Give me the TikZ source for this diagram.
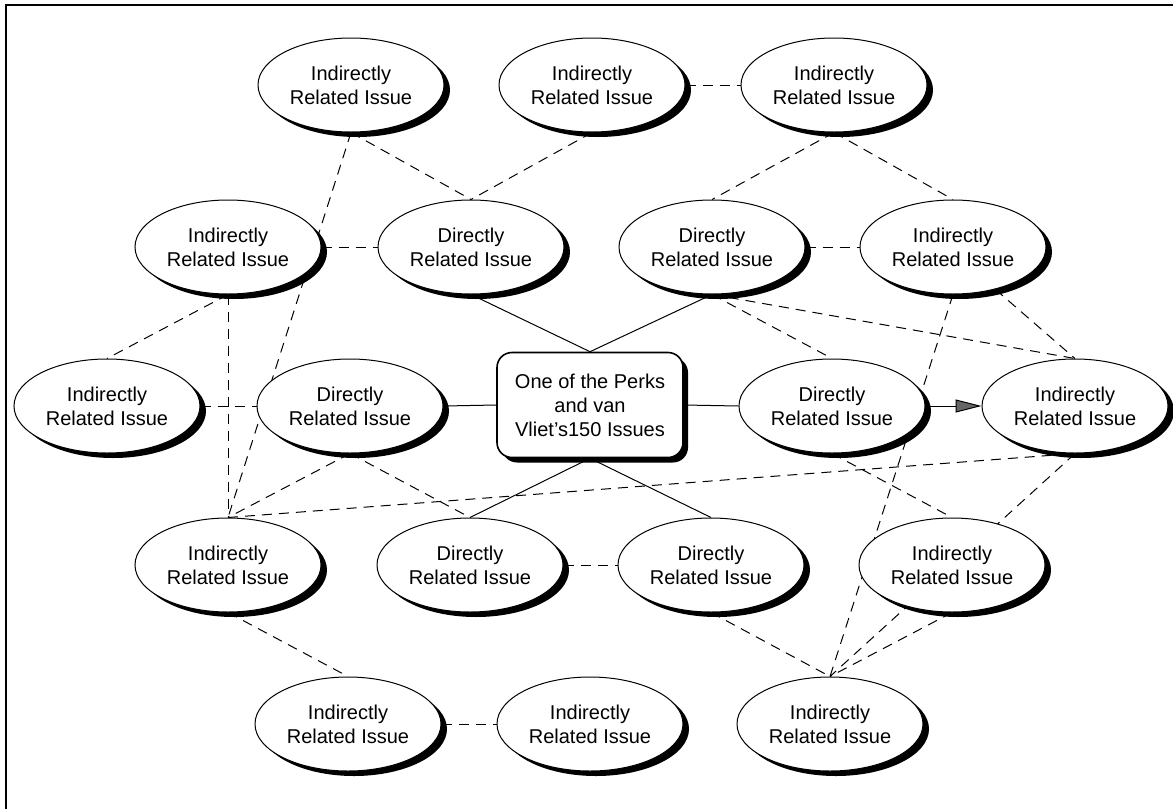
\documentclass[tikz,border=0pt]{standalone}
\usepackage{fontspec}
\setmainfont{Liberation Sans}
\usetikzlibrary{shapes.geometric,arrows.meta,backgrounds,shadows}
\begin{document}
\begin{tikzpicture}[x=0.5pt,y=-0.5pt,
  txt/.style={font=\fontsize{10pt}{12pt}\selectfont, align=center},
  issue/.style={txt, ellipse, draw=black, line width=0.5pt, fill=white,
    inner sep=0pt, minimum width=93pt, minimum height=47pt,
    general shadow={fill=black, shadow xshift=3pt, shadow yshift=-2.5pt}},
  core/.style={txt, rectangle, rounded corners=7.5pt, draw=black, line width=0.8pt,
    fill=white, inner sep=0pt, minimum width=93pt, minimum height=52.5pt,
    general shadow={fill=black, shadow xshift=2.5pt, shadow yshift=-2.5pt}},
  link/.style={line width=0.5pt},
  rel/.style={line width=0.5pt, dash pattern=on 5pt off 3.5pt},
  framed/.style={line width=1.3pt}
]
\useasboundingbox (0,0) rectangle (1173,809);

% nodes
\node[issue] (I1) at (351,85) {Indirectly\\Related Issue};
\node[issue] (I2) at (592,85) {Indirectly\\Related Issue};
\node[issue] (I3) at (834,85) {Indirectly\\Related Issue};
\node[issue] (I4) at (228,247) {Indirectly\\Related Issue};
\node[issue] (D1) at (471,247) {Directly\\Related Issue};
\node[issue] (D2) at (712,247) {Directly\\Related Issue};
\node[issue] (I5) at (953,247) {Indirectly\\Related Issue};
\node[issue] (I6) at (107,406) {Indirectly\\Related Issue};
\node[issue] (D3) at (350,406) {Directly\\Related Issue};
\node[core]  (C)  at (590,405) {One of the Perks\\and van\\Vliet's150 Issues};
\node[issue] (D4) at (832,406) {Directly\\Related Issue};
\node[issue] (I7) at (1075,406) {Indirectly\\Related Issue};
\node[issue] (I8) at (228,565) {Indirectly\\Related Issue};
\node[issue] (D5) at (470,565) {Directly\\Related Issue};
\node[issue] (D6) at (711,565) {Directly\\Related Issue};
\node[issue] (I9) at (952,565) {Indirectly\\Related Issue};
\node[issue] (I10) at (348,724) {Indirectly\\Related Issue};
\node[issue] (I11) at (590,724) {Indirectly\\Related Issue};
\node[issue] (I12) at (830,724) {Indirectly\\Related Issue};

\draw[link, -{Triangle[length=13pt,width=6.5pt,fill=black!60]}] (D4.east) -- (I7.west);

\begin{scope}[on background layer]
  \draw[framed] (6,809) -- (6,5) -- (1173,5);
  % solid links
  \draw[link] (D1.south) -- (C.north);
  \draw[link] (D2.south) -- (C.north);
  \draw[link] (D3.east) -- (C.west);
  \draw[link] (C.east) -- (D4.west);
  \draw[link] (C.south) -- (D5.north);
  \draw[link] (C.south) -- (D6.north);
  % dashed links
  \draw[rel] (I2.east) -- (I3.west);
  \draw[rel] (I4.east) -- (D1.west);
  \draw[rel] (D2.east) -- (I5.west);
  \draw[rel] (I6.east) -- (D3.west);
  \draw[rel] (D5.east) -- (D6.west);
  \draw[rel] (I10.east) -- (I11.west);
  \draw[rel] (I1.south) -- (D1.north);
  \draw[rel] (I2.south) -- (D1.north);
  \draw[rel] (I1.south) -- (I8.north);
  \draw[rel] (I4.south) -- (I8.north);
  \draw[rel] (I4.south) -- (I6.north);
  \draw[rel] (D3.south) -- (I8.north);
  \draw[rel] (D3.south) -- (D5.north);
  \draw[rel] (I8.north) -- (I7.south);
  \draw[rel] (I3.south) -- (D2.north);
  \draw[rel] (I3.south) -- (I5.north);
  \draw[rel] (D2.south) -- (I7.north);
  \draw[rel] (D2.south) -- (D4.north);
  \draw[rel] (I5.-45) -- (I7.north);
  \draw[rel] (I5.south) -- (I12.north);
  \draw[rel] (D4.south) -- (I9.north);
  \draw[rel] (I7.south) -- (I12.north);
  \draw[rel] (I9.south) -- (I12.north);
  \draw[rel] (D6.south) -- (I12.north);
  \draw[rel] (I8.south) -- (I10.north);
\end{scope}
\end{tikzpicture}
\end{document}
